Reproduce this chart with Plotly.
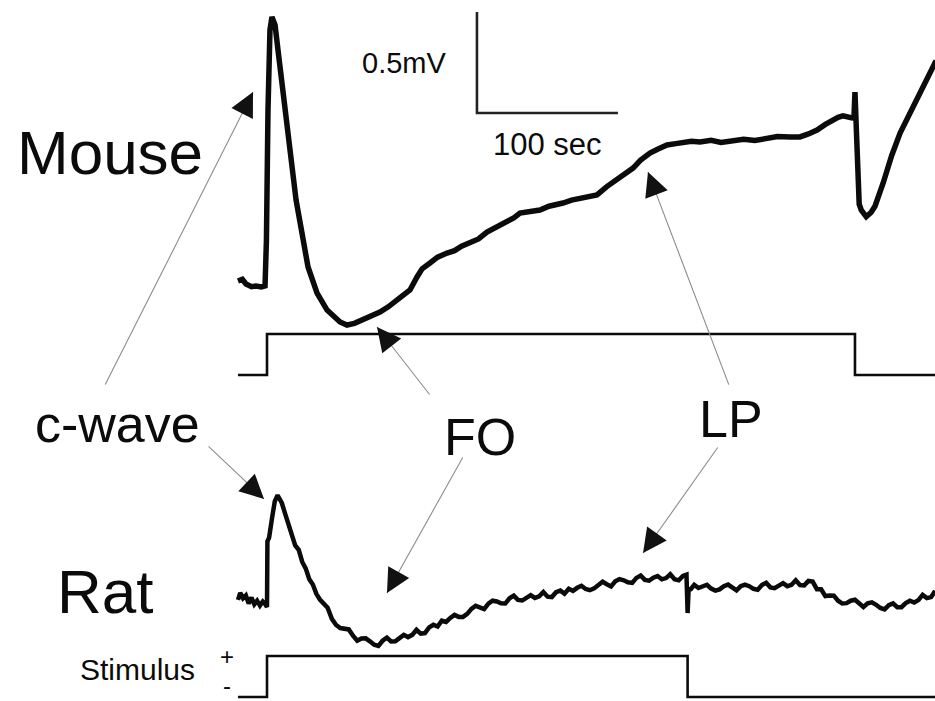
import numpy as np
import plotly.graph_objects as go

# ---------------------------------------------------------------------------
# DC-ERG recordings. Time in s from light onset, potential relative to the
# pre-stimulus baseline.
# ---------------------------------------------------------------------------
mouse_t = [-20.6, -17.5, -14.9, -11.0, -7.8, -4.0, -1.4,
           -0.4, 0.7, 2.1, 3.5, 5.7, 7.8, 12.1, 16.3, 20.6, 24.8, 29.1, 35.5,
           42.6, 51.8, 56.7, 62.0, 68.1, 74.0, 80.1, 86.0, 92.2, 97.0, 101.4,
           106.4, 110.0, 115.6, 121.0, 127.7, 133.0, 138.0, 144.0, 150.0,
           156.0, 163.1, 170.0, 175.0, 179.4, 186.0, 193.6, 200.0, 205.0,
           209.9, 216.0, 222.0, 228.0, 234.0, 241.0, 248.2, 254.0, 259.6,
           265.0, 271.6, 277.0, 283.7, 290.0, 295.0, 301.0, 307.1, 315.0,
           322.0, 330.5, 338.0, 346.0, 354.6, 362.0, 370.9, 378.0, 384.0,
           390.1, 396.0, 401.4, 405.0, 408.5, 412.0, 414.9, 416.3,
           417.0, 418.0, 419.1, 420.0, 421.5, 425.0, 428.5, 431.2, 437.0,
           443.0, 449.0, 455.0, 461.0, 466.0, 472.3, 474.5]
mouse_mv = [0.020, 0.028, 0.005, -0.008, -0.005, -0.010, -0.005,
            0.223, 0.866, 1.262, 1.327, 1.287, 1.163, 0.916, 0.668, 0.421,
            0.257, 0.089, -0.040, -0.124, -0.183, -0.198, -0.190, -0.173,
            -0.155, -0.134, -0.108, -0.074, -0.050, -0.025, 0.040, 0.080,
            0.109, 0.138, 0.158, 0.170, 0.192, 0.208, 0.228, 0.262, 0.287,
            0.318, 0.332, 0.356, 0.360, 0.371, 0.390, 0.395, 0.406, 0.420,
            0.428, 0.440, 0.446, 0.487, 0.520, 0.552, 0.579, 0.618, 0.653,
            0.672, 0.693, 0.700, 0.703, 0.712, 0.708, 0.716, 0.706, 0.713,
            0.722, 0.715, 0.723, 0.735, 0.733, 0.733, 0.748, 0.767, 0.795,
            0.817, 0.830, 0.837, 0.830, 0.827, 0.830,
            0.955, 0.767, 0.520, 0.400, 0.370, 0.338, 0.360, 0.390, 0.505,
            0.640, 0.752, 0.840, 0.916, 0.990, 1.079, 1.110]

rat_t = [-20.6, -19.0, -17.0, -15.0, -13.0, -11.0, -9.0, -7.0, -5.0, -3.0,
         -1.2, -0.3,
         0.0, 0.3, 1.5, 3.5, 5.5, 7.5, 9.0, 10.5, 12.5, 15.0, 17.5, 20.0,
         22.5, 25.0, 27.5, 30.0, 32.5, 35.0, 37.5,
         40, 43, 46, 49, 52, 55, 58, 61, 64, 67, 70, 73, 76, 79, 82, 85, 88,
         91, 94, 97, 100, 103, 106, 109, 112, 115, 118, 121, 124, 127, 130,
         133, 136, 139, 142, 145, 148, 151, 154, 157, 160, 163, 166, 169,
         172, 175, 178, 181, 184, 187, 190, 193, 196, 199, 202, 205, 208,
         211, 214, 217, 220, 223, 226, 229, 232, 235, 238, 241, 244, 247,
         250, 253, 256, 259, 262, 265, 268, 271, 274, 277, 280, 283, 286,
         289, 292, 295, 297.5,
         298.3, 299.0, 300.5,
         303, 306, 309, 312, 315, 318, 321, 324, 327, 330, 333, 336, 339,
         342, 345, 348, 351, 354, 357, 360, 363, 366, 369, 372, 375, 378,
         381, 384, 387, 390, 393, 396, 399, 402, 405, 408, 411, 414, 417,
         420, 423, 426, 429, 432, 435, 438, 441, 444, 447, 450, 453, 456,
         459, 462, 465, 468, 471, 473.8]
rat_uv = [10, 45, 18, 32, -8, 22, -12, 6, -18, 2, -12, -22,
          -25, 300, 318, 412, 498, 528, 512, 490, 445, 385, 338, 280, 258,
          198, 165, 112, 86, 40, 12,
          -10, -29, -84, -114, -129, -134, -136, -167, -192, -181, -180,
          -195, -212, -218, -192, -177, -196, -195, -176, -163, -174, -163,
          -138, -157, -154, -126, -113, -122, -93, -99,
          -79, -64, -74, -74, -59, -34, -19, -27, -35, -8, 6, 2, -7, -8,
          18, 31, 10, 7, 24, 34, 20, 28, 49, 26, 24, 48, 56, 41, 65, 55,
          70, 80, 64, 58, 67, 87, 100, 88, 77, 102, 113, 107, 97, 94, 119,
          131, 109, 105, 120, 128, 112, 118, 137, 112, 107, 129, 135,
          -55, 60, 63,
          85, 69, 79, 85, 66, 56, 62, 78, 86, 71, 57, 78, 86, 78, 65, 60,
          84, 95, 72, 68, 84, 93, 78, 85, 107, 84, 82, 104, 101, 63, 63, 29,
          32, 31, 6, -8, -6, 6, 11, -7, -25, -7, -2, -14, -30, -37, -16, -7,
          -26, -26, -6, 6, -3, 9, 35, 19, 24, 55]

# Light stimulus monitor (0 = off, 1 = on)
mouse_stim_t = [-20.6, 0.0, 0.0, 417.0, 417.0, 474.5]
mouse_stim = [0, 0, 1, 1, 0, 0]
rat_stim_t = [-20.6, 0.0, 0.0, 298.3, 298.3, 474.5]
rat_stim = [0, 0, 1, 1, 0, 0]

# Calibration bar
scale_bar_s = 100
scale_bar_mv = 0.5

# ---------------------------------------------------------------------------
# Page layout: traces are stacked with vertical offsets in one panel
# ---------------------------------------------------------------------------
W, H = 935, 701
PX_PER_S = 1.41
PX_PER_MV = 202.0
ONSET_PX = 267           # horizontal pixel of light onset
BASE_PX = 285            # vertical pixel of the mouse baseline

X_RANGE = [(0 - ONSET_PX) / PX_PER_S, (W - ONSET_PX) / PX_PER_S]
Y_RANGE = [(BASE_PX - H) / PX_PER_MV, BASE_PX / PX_PER_MV]

MOUSE_OFFSET = 0.0
RAT_OFFSET = -1.569
STIM_HEIGHT = 0.203
MOUSE_STIM_BASE = -0.4455
RAT_STIM_BASE = -2.0396
SCALE_CORNER = (148.9, 0.8515)

FONT = "Liberation Sans, Arial, Helvetica, sans-serif"
INK = "#0b0b0b"

fig = go.Figure()

fig.add_trace(go.Scatter(x=mouse_t, y=np.array(mouse_mv) + MOUSE_OFFSET,
                         mode="lines", line=dict(color=INK, width=5.5),
                         hoverinfo="skip"))
fig.add_trace(go.Scatter(x=rat_t, y=np.array(rat_uv) / 1000.0 + RAT_OFFSET,
                         mode="lines", line=dict(color=INK, width=4.5),
                         hoverinfo="skip"))
fig.add_trace(go.Scatter(x=mouse_stim_t,
                         y=np.array(mouse_stim) * STIM_HEIGHT + MOUSE_STIM_BASE,
                         mode="lines", line=dict(color=INK, width=2.6),
                         hoverinfo="skip"))
fig.add_trace(go.Scatter(x=rat_stim_t,
                         y=np.array(rat_stim) * STIM_HEIGHT + RAT_STIM_BASE,
                         mode="lines", line=dict(color=INK, width=2.6),
                         hoverinfo="skip"))

# calibration bar: 0.5 mV vertical, 100 s horizontal
cx, cy = SCALE_CORNER
fig.add_trace(go.Scatter(x=[cx, cx, cx + scale_bar_s],
                         y=[cy + scale_bar_mv, cy, cy],
                         mode="lines", line=dict(color="#222222", width=2.6),
                         hoverinfo="skip"))

# text labels: (text, t, y, font size)
labels = [
    ("Mouse", -111.3, 0.655, 62),
    ("Rat", -115.2, -1.515, 62),
    ("c-wave", -106.0, -0.690, 52),
    ("FO", 151.1, -0.752, 52),
    ("LP", 329.1, -0.663, 52),
    ("0.5mV", 97.2, 1.099, 29),
    ("100 sec", 198.6, 0.698, 31),
    ("Stimulus", -92.2, -1.9035, 30),
    ("+", -28.4, -1.837, 24),
    ("-", -28.4, -1.985, 24),
]
for text, x, y, size in labels:
    fig.add_annotation(x=x, y=y, text=text, showarrow=False,
                       xanchor="center", yanchor="middle",
                       font=dict(family=FONT, size=size, color=INK))

# pointer arrows: tip in data units, tail as pixel offset from the tip
pointers = [
    (-9.93, 0.955, -148, 293),    # c-wave, mouse
    (-2.13, -1.059, -56, -53),    # c-wave, rat
    (78.0, -0.208, 53, 68),       # FO, mouse
    (85.1, -1.525, 76, -136),     # FO, rat
    (270.2, 0.559, 81, 213),      # LP, mouse
    (266.7, -1.327, 75, -106),    # LP, rat
]
for x, y, dx, dy in pointers:
    fig.add_annotation(x=x, y=y, ax=dx, ay=dy, text="", showarrow=True,
                       font=dict(size=1), borderpad=0,
                       arrowhead=0, arrowwidth=1.1, arrowcolor="#8c8c8c")
    n = float(np.hypot(dx, dy))
    fig.add_annotation(x=x, y=y, ax=dx / n * 16, ay=dy / n * 16, text="",
                       font=dict(size=1), borderpad=0,
                       showarrow=True, arrowhead=2, arrowsize=3.0,
                       arrowwidth=1.6, arrowcolor="#111111")

fig.update_layout(
    width=W, height=H,
    margin=dict(l=0, r=0, t=0, b=0),
    paper_bgcolor="white", plot_bgcolor="white",
    showlegend=False,
    xaxis=dict(range=X_RANGE, visible=False, fixedrange=True),
    yaxis=dict(range=Y_RANGE, visible=False, fixedrange=True),
)

fig.write_html("out.html")
